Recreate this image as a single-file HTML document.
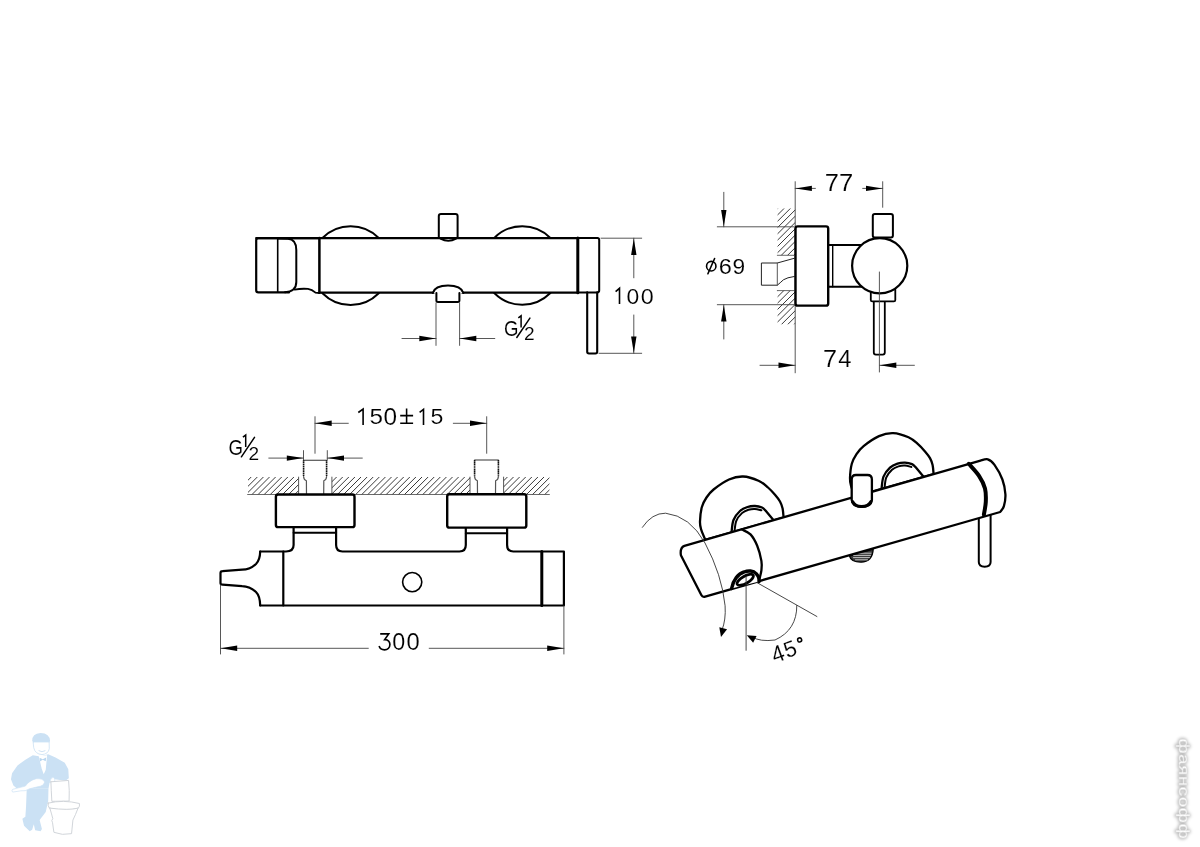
<!DOCTYPE html>
<html><head><meta charset="utf-8"><style>
html,body{margin:0;padding:0;background:#fff;}
svg{display:block;font-family:"Liberation Sans",sans-serif;will-change:transform;}
</style></head><body>
<svg width="1200" height="847" viewBox="0 0 1200 847" stroke-linecap="round" stroke-linejoin="round">
<rect width="1200" height="847" fill="#fff"/>
<circle cx="350.6" cy="265.6" r="39.4" stroke="#000" stroke-width="2" fill="#fff"/>
<circle cx="522.3" cy="265.5" r="39.3" stroke="#000" stroke-width="2" fill="#fff"/>
<path d="M438.8,238 L438.8,216 Q438.8,213.9 441,213.9 L455.5,213.9 Q457.6,213.9 457.6,216 L457.6,238" stroke="#000" stroke-width="2.0" fill="#fff" />
<rect x="256" y="238.1" width="343" height="54.5" fill="#fff" stroke="none"/>
<line x1="256.2" y1="238.1" x2="577.3" y2="238.1" stroke="#000" stroke-width="2.2"/>
<line x1="319.4" y1="292.7" x2="577.3" y2="292.7" stroke="#000" stroke-width="2.2"/>
<path d="M440.5,238.6 Q448.3,243.2 456.1,238.6" stroke="#000" stroke-width="1.8" fill="none" />
<path d="M319.4,238.1 L258.4,238.1 Q256.2,238.1 256.2,240.3 L256.2,290.2 Q256.2,292.4 258.4,292.4 L289,292.4" stroke="#000" stroke-width="2.2" fill="none" />
<line x1="319.4" y1="238.1" x2="319.4" y2="292.8" stroke="#000" stroke-width="2.5"/>
<line x1="277.7" y1="238.5" x2="277.7" y2="292.2" stroke="#000" stroke-width="1.6"/>
<path d="M277.7,238.6 L288,238.8 Q296.3,239.5 296.3,250 L296.3,282 Q296.3,291.5 285,292.2" stroke="#000" stroke-width="2.0" fill="none" />
<path d="M294.6,289.6 Q301,288.4 308,288.9 Q312,289.5 315.5,292.6 L319.4,293" stroke="#000" stroke-width="1.8" fill="none" />
<rect x="434.5" y="288" width="27" height="8" fill="#fff"/>
<path d="M432.8,293 Q435,285.6 448,285.6 Q461,285.6 463.4,293" stroke="#000" stroke-width="2.0" fill="#fff" />
<path d="M436.4,293 L436.4,300.5 Q436.4,302 438,302 L457.8,302 Q459.4,302 459.4,300.5 L459.4,293" stroke="#000" stroke-width="2.0" fill="none" />
<line x1="577.8" y1="238.1" x2="577.8" y2="292.7" stroke="#000" stroke-width="3.0"/>
<path d="M579.3,238.1 L597.4,238.1 Q599.2,238.1 599.2,240 L599.2,290.6 Q599.2,292.4 597.4,292.4 L579.3,292.4" stroke="#000" stroke-width="2.0" fill="none" />
<path d="M587.2,292.4 L587.2,351.8 Q587.2,353.5 589,353.5 L595.4,353.5 Q597.2,353.5 597.2,351.8 L597.2,292.4" stroke="#000" stroke-width="2.1" fill="none" />
<line x1="601" y1="238.2" x2="641.7" y2="238.2" stroke="#444" stroke-width="0.9"/>
<line x1="599" y1="353.3" x2="641.7" y2="353.3" stroke="#444" stroke-width="0.9"/>
<line x1="633.8" y1="238.2" x2="633.8" y2="277.8" stroke="#444" stroke-width="0.9"/>
<line x1="633.8" y1="315" x2="633.8" y2="353.3" stroke="#444" stroke-width="0.9"/>
<path d="M633.80,238.40 L636.50,254.90 L631.10,254.90 Z" fill="#000"/>
<path d="M633.80,353.10 L631.10,336.60 L636.50,336.60 Z" fill="#000"/>
<path d="M615.6,291.6 L619.5,288.3 L619.5,304" stroke="#000" stroke-width="1.6" fill="none" stroke-linecap="butt" stroke-linejoin="miter"/>
<text x="0" y="0" font-size="100" fill="#000" stroke="#fff" stroke-width="0.54" transform="matrix(0.22917,0,0,0.22394,626.583,303.776)" >0</text>
<text x="0" y="0" font-size="100" fill="#000" stroke="#fff" stroke-width="0.54" transform="matrix(0.23333,0,0,0.22394,640.767,303.776)" >0</text>
<line x1="436" y1="303" x2="436" y2="345.4" stroke="#444" stroke-width="0.9"/>
<line x1="459.6" y1="303" x2="459.6" y2="345.4" stroke="#444" stroke-width="0.9"/>
<line x1="402" y1="338.5" x2="436" y2="338.5" stroke="#444" stroke-width="0.9"/>
<line x1="459.6" y1="338.5" x2="494.8" y2="338.5" stroke="#444" stroke-width="0.9"/>
<path d="M435.80,338.50 L419.30,341.20 L419.30,335.80 Z" fill="#000"/>
<path d="M459.80,338.50 L476.30,335.80 L476.30,341.20 Z" fill="#000"/>
<line x1="795.2" y1="181.7" x2="795.2" y2="372.8" stroke="#444" stroke-width="0.9"/>
<clipPath id="h34"><rect x="777.6" y="208.6" width="17.600000000000023" height="46.70000000000002"/></clipPath>
<path d="M722.60,257.30 L773.30,206.60 M728.90,257.30 L779.60,206.60 M735.20,257.30 L785.90,206.60 M741.50,257.30 L792.20,206.60 M747.80,257.30 L798.50,206.60 M754.10,257.30 L804.80,206.60 M760.40,257.30 L811.10,206.60 M766.70,257.30 L817.40,206.60 M773.00,257.30 L823.70,206.60 M779.30,257.30 L830.00,206.60 M785.60,257.30 L836.30,206.60 M791.90,257.30 L842.60,206.60" stroke="#3a3a3a" stroke-width="1.0" clip-path="url(#h34)"/>
<clipPath id="h36"><rect x="777.6" y="290.6" width="17.600000000000023" height="33.69999999999999"/></clipPath>
<path d="M735.50,326.30 L773.20,288.60 M741.80,326.30 L779.50,288.60 M748.10,326.30 L785.80,288.60 M754.40,326.30 L792.10,288.60 M760.70,326.30 L798.40,288.60 M767.00,326.30 L804.70,288.60 M773.30,326.30 L811.00,288.60 M779.60,326.30 L817.30,288.60 M785.90,326.30 L823.60,288.60 M792.20,326.30 L829.90,288.60" stroke="#3a3a3a" stroke-width="1.0" clip-path="url(#h36)"/>
<line x1="777.3" y1="255.3" x2="794" y2="255.3" stroke="#444" stroke-width="0.8"/>
<line x1="777.3" y1="290.6" x2="794" y2="290.6" stroke="#444" stroke-width="0.8"/>
<path d="M794.2,258.3 L777.3,263 L761.4,263 L761.4,285.2 L777.3,285.2 Q780,283 783.4,279.8 Q787,277.5 794.2,276.5" stroke="#222" stroke-width="1.0" fill="none" />
<line x1="777.3" y1="263" x2="777.3" y2="285.2" stroke="#444" stroke-width="0.9"/>
<path d="M828.2,245 L866,245" stroke="#000" stroke-width="2.0" fill="none" />
<path d="M828.2,286.8 L866,286.8" stroke="#000" stroke-width="2.0" fill="none" />
<line x1="832.7" y1="244.8" x2="832.7" y2="286.8" stroke="#000" stroke-width="1.4"/>
<rect x="795.5" y="226.4" width="32.7" height="79.2" rx="2.2" stroke="#000" stroke-width="2.4" fill="#fff"/>
<rect x="872.8" y="213.9" width="20.1" height="23.5" rx="2" stroke="#000" stroke-width="2" fill="#fff"/>
<rect x="873.8" y="295" width="11" height="59.6" rx="2" stroke="#000" stroke-width="1.8" fill="#fff"/>
<rect x="870.8" y="288" width="24.5" height="13.4" rx="1.5" stroke="#000" stroke-width="1.8" fill="#fff"/>
<circle cx="879.7" cy="265.8" r="27.6" stroke="#000" stroke-width="2.2" fill="#fff"/>
<line x1="879.4" y1="272" x2="879.4" y2="372" stroke="#444" stroke-width="0.9"/>
<line x1="882.7" y1="181.7" x2="882.7" y2="207.3" stroke="#444" stroke-width="0.9"/>
<line x1="795.2" y1="188.4" x2="815.4" y2="188.4" stroke="#444" stroke-width="0.9"/>
<line x1="862.7" y1="188.4" x2="882.7" y2="188.4" stroke="#444" stroke-width="0.9"/>
<path d="M795.40,188.40 L811.90,185.70 L811.90,191.10 Z" fill="#000"/>
<path d="M882.50,188.40 L866.00,191.10 L866.00,185.70 Z" fill="#000"/>
<text x="0" y="0" font-size="100" fill="#000" stroke="#fff" stroke-width="0.49" transform="matrix(0.25435,0,0,0.24265,824.728,190.743)" >7</text>
<text x="0" y="0" font-size="100" fill="#000" stroke="#fff" stroke-width="0.49" transform="matrix(0.25652,0,0,0.24265,838.917,190.743)" >7</text>
<line x1="717.3" y1="226.8" x2="794" y2="226.8" stroke="#444" stroke-width="0.9"/>
<line x1="717.3" y1="304.7" x2="794" y2="304.7" stroke="#444" stroke-width="0.9"/>
<line x1="723.8" y1="192.3" x2="723.8" y2="226.8" stroke="#444" stroke-width="0.9"/>
<line x1="723.8" y1="304.7" x2="723.8" y2="339" stroke="#444" stroke-width="0.9"/>
<path d="M723.80,226.60 L721.10,210.10 L726.50,210.10 Z" fill="#000"/>
<path d="M723.80,304.90 L726.50,321.40 L721.10,321.40 Z" fill="#000"/>
<ellipse cx="711.25" cy="266.15" rx="4.7" ry="4.8" stroke="#000" stroke-width="1.6" fill="none"/>
<line x1="707.9" y1="273.75" x2="714.6" y2="258.5" stroke="#000" stroke-width="1.6"/>
<text x="0" y="0" font-size="100" fill="#000" stroke="#fff" stroke-width="0.53" transform="matrix(0.23478,0,0,0.22676,718.826,273.773)" >6</text>
<text x="0" y="0" font-size="100" fill="#000" stroke="#fff" stroke-width="0.53" transform="matrix(0.22717,0,0,0.22676,732.614,273.773)" >9</text>
<line x1="760" y1="365.3" x2="795.2" y2="365.3" stroke="#444" stroke-width="0.9"/>
<line x1="879.6" y1="365.3" x2="914.4" y2="365.3" stroke="#444" stroke-width="0.9"/>
<path d="M795.00,365.30 L778.50,368.00 L778.50,362.60 Z" fill="#000"/>
<path d="M879.80,365.30 L896.30,362.60 L896.30,368.00 Z" fill="#000"/>
<text x="0" y="0" font-size="100" fill="#000" stroke="#fff" stroke-width="0.50" transform="matrix(0.25217,0,0,0.24118,822.939,366.941)" >7</text>
<text x="0" y="0" font-size="100" fill="#000" stroke="#fff" stroke-width="0.50" transform="matrix(0.23725,0,0,0.24118,838.225,366.941)" >4</text>
<line x1="315" y1="416.7" x2="315" y2="453.3" stroke="#444" stroke-width="0.9"/>
<line x1="486.7" y1="416.7" x2="486.7" y2="453.3" stroke="#444" stroke-width="0.9"/>
<line x1="315" y1="423.3" x2="348.3" y2="423.3" stroke="#444" stroke-width="0.9"/>
<line x1="453.3" y1="423.3" x2="486.7" y2="423.3" stroke="#444" stroke-width="0.9"/>
<path d="M315.20,423.30 L331.70,420.60 L331.70,426.00 Z" fill="#000"/>
<path d="M486.50,423.30 L470.00,426.00 L470.00,420.60 Z" fill="#000"/>
<path d="M358.3,412.5 L363.1,409.1 L363.1,424.9" stroke="#000" stroke-width="1.6" fill="none" stroke-linecap="butt" stroke-linejoin="miter"/>
<text x="0" y="0" font-size="100" fill="#000" stroke="#fff" stroke-width="0.53" transform="matrix(0.24255,0,0,0.22786,369.430,424.472)" >5</text>
<text x="0" y="0" font-size="100" fill="#000" stroke="#fff" stroke-width="0.51" transform="matrix(0.24375,0,0,0.23521,383.425,424.865)" >0</text>
<path d="M406.6,408.6 L406.6,422.6 M400.2,415.6 L413.1,415.6 M400.2,423.2 L413.1,423.2" stroke="#000" stroke-width="1.55" fill="none" stroke-linecap="butt"/>
<path d="M419.6,412.4 L423.5,409.3 L423.5,425" stroke="#000" stroke-width="1.6" fill="none" stroke-linecap="butt" stroke-linejoin="miter"/>
<text x="0" y="0" font-size="100" fill="#000" stroke="#fff" stroke-width="0.54" transform="matrix(0.23085,0,0,0.22286,430.477,424.377)" >5</text>
<line x1="303.5" y1="450.6" x2="303.5" y2="460" stroke="#444" stroke-width="0.9"/>
<line x1="327.3" y1="450.6" x2="327.3" y2="460" stroke="#444" stroke-width="0.9"/>
<line x1="268.8" y1="458.1" x2="303.5" y2="458.1" stroke="#444" stroke-width="0.9"/>
<line x1="327.3" y1="458.1" x2="362.3" y2="458.1" stroke="#444" stroke-width="0.9"/>
<path d="M303.30,458.10 L286.80,460.80 L286.80,455.40 Z" fill="#000"/>
<path d="M327.50,458.10 L344.00,455.40 L344.00,460.80 Z" fill="#000"/>
<clipPath id="h92"><rect x="248" y="477.1" width="50.39999999999998" height="17.399999999999977"/></clipPath>
<path d="M225.60,496.50 L247.00,475.10 M231.70,496.50 L253.10,475.10 M237.80,496.50 L259.20,475.10 M243.90,496.50 L265.30,475.10 M250.00,496.50 L271.40,475.10 M256.10,496.50 L277.50,475.10 M262.20,496.50 L283.60,475.10 M268.30,496.50 L289.70,475.10 M274.40,496.50 L295.80,475.10 M280.50,496.50 L301.90,475.10 M286.60,496.50 L308.00,475.10 M292.70,496.50 L314.10,475.10" stroke="#3a3a3a" stroke-width="1.0" clip-path="url(#h92)"/>
<clipPath id="h94"><rect x="331.9" y="477.1" width="138.10000000000002" height="17.399999999999977"/></clipPath>
<path d="M304.90,496.50 L326.30,475.10 M311.00,496.50 L332.40,475.10 M317.10,496.50 L338.50,475.10 M323.20,496.50 L344.60,475.10 M329.30,496.50 L350.70,475.10 M335.40,496.50 L356.80,475.10 M341.50,496.50 L362.90,475.10 M347.60,496.50 L369.00,475.10 M353.70,496.50 L375.10,475.10 M359.80,496.50 L381.20,475.10 M365.90,496.50 L387.30,475.10 M372.00,496.50 L393.40,475.10 M378.10,496.50 L399.50,475.10 M384.20,496.50 L405.60,475.10 M390.30,496.50 L411.70,475.10 M396.40,496.50 L417.80,475.10 M402.50,496.50 L423.90,475.10 M408.60,496.50 L430.00,475.10 M414.70,496.50 L436.10,475.10 M420.80,496.50 L442.20,475.10 M426.90,496.50 L448.30,475.10 M433.00,496.50 L454.40,475.10 M439.10,496.50 L460.50,475.10 M445.20,496.50 L466.60,475.10 M451.30,496.50 L472.70,475.10 M457.40,496.50 L478.80,475.10 M463.50,496.50 L484.90,475.10 M469.60,496.50 L491.00,475.10" stroke="#3a3a3a" stroke-width="1.0" clip-path="url(#h94)"/>
<clipPath id="h96"><rect x="503.6" y="477.1" width="45.799999999999955" height="17.399999999999977"/></clipPath>
<path d="M481.80,496.50 L503.20,475.10 M487.90,496.50 L509.30,475.10 M494.00,496.50 L515.40,475.10 M500.10,496.50 L521.50,475.10 M506.20,496.50 L527.60,475.10 M512.30,496.50 L533.70,475.10 M518.40,496.50 L539.80,475.10 M524.50,496.50 L545.90,475.10 M530.60,496.50 L552.00,475.10 M536.70,496.50 L558.10,475.10 M542.80,496.50 L564.20,475.10 M548.90,496.50 L570.30,475.10" stroke="#3a3a3a" stroke-width="1.0" clip-path="url(#h96)"/>
<line x1="247.6" y1="494.5" x2="549.4" y2="494.5" stroke="#444" stroke-width="0.8"/>
<line x1="298.6" y1="477.1" x2="298.6" y2="494.5" stroke="#444" stroke-width="0.9"/>
<line x1="331.9" y1="477.1" x2="331.9" y2="494.5" stroke="#444" stroke-width="0.9"/>
<line x1="470" y1="477.1" x2="470" y2="494.5" stroke="#444" stroke-width="0.9"/>
<line x1="503.6" y1="477.1" x2="503.6" y2="494.5" stroke="#444" stroke-width="0.9"/>
<line x1="303.6" y1="460.3" x2="326.6" y2="460.3" stroke="#333" stroke-width="1.1"/>
<path d="M303.6,460.3 L303.6,476.5 M326.6,460.3 L326.6,476.5" stroke="#111" stroke-width="1.6" stroke-dasharray="1.4,0.4" stroke-linecap="butt"/>
<path d="M303.6,476.5 Q303.6,479.5 306.40000000000003,480.8 L306.5,494.5 M326.6,476.5 Q326.6,479.5 323.8,480.8 L323.70000000000005,494.5" stroke="#555" stroke-width="1.2" fill="none" />
<line x1="474.6" y1="460" x2="498.4" y2="460" stroke="#333" stroke-width="1.1"/>
<path d="M474.6,460 L474.6,476.5 M498.4,460 L498.4,476.5" stroke="#111" stroke-width="1.6" stroke-dasharray="1.4,0.4" stroke-linecap="butt"/>
<path d="M474.6,476.5 Q474.6,479.5 477.40000000000003,480.8 L477.5,494.5 M498.4,476.5 Q498.4,479.5 495.59999999999997,480.8 L495.5,494.5" stroke="#555" stroke-width="1.2" fill="none" />
<path d="M260.2,551.5 L286,551.5 Q293.6,551.5 293.6,545 L293.6,527 M336.1,527 L336.1,545 Q336.1,551.5 342.5,551.5 L459.5,551.5 Q465.8,551.5 465.8,545 L465.8,527 M507.1,527 L507.1,545 Q507.1,551.5 513.3,551.5 L563.9,551.5 L563.9,605.5 L260.2,605.5" stroke="#000" stroke-width="2.2" fill="none" />
<line x1="293.6" y1="532.8" x2="336.1" y2="532.8" stroke="#000" stroke-width="2.0"/>
<line x1="465.8" y1="533.3" x2="507.1" y2="533.3" stroke="#000" stroke-width="2.0"/>
<rect x="275.9" y="494.5" width="78.6" height="32.6" rx="2.2" stroke="#000" stroke-width="2.4" fill="#fff"/>
<rect x="447.2" y="494.3" width="79.1" height="33.3" rx="2.2" stroke="#000" stroke-width="2.4" fill="#fff"/>
<path d="M260.2,551.5 Q260,560 256,564 Q250,569.5 242.1,569.7 L222.5,571.2 Q220.5,571.3 220.5,573 L220.5,583 Q220.5,584.7 222.5,584.7 L242.1,586.2 Q250,586.6 256,592 Q260,596 260.2,605.5" stroke="#000" stroke-width="2.2" fill="none" />
<line x1="283.3" y1="551.5" x2="283.3" y2="605.5" stroke="#000" stroke-width="2.2"/>
<line x1="541.8" y1="551.5" x2="541.8" y2="605.5" stroke="#000" stroke-width="3.0"/>
<circle cx="412.2" cy="582.1" r="9.6" stroke="#000" stroke-width="1.6" fill="none"/>
<line x1="220.5" y1="585" x2="220.5" y2="654" stroke="#444" stroke-width="0.9"/>
<line x1="563.9" y1="606" x2="563.9" y2="654" stroke="#444" stroke-width="0.9"/>
<line x1="220.5" y1="648.3" x2="368.3" y2="648.3" stroke="#444" stroke-width="0.9"/>
<line x1="429.2" y1="648.3" x2="563.9" y2="648.3" stroke="#444" stroke-width="0.9"/>
<path d="M220.70,648.30 L237.20,645.60 L237.20,651.00 Z" fill="#000"/>
<path d="M563.70,648.30 L547.20,651.00 L547.20,645.60 Z" fill="#000"/>
<path d="M380.2,633.9 L388.7,633.9 L384.7,639.6 C388.6,639.5 389.9,642.4 389.9,644.5 C389.9,647.8 387.5,649.8 384.5,649.8 C381.8,649.8 379.8,648.3 379.1,646" stroke="#000" stroke-width="1.65" fill="none" stroke-linejoin="miter" stroke-linecap="butt"/>
<text x="0" y="0" font-size="100" fill="#000" stroke="#fff" stroke-width="0.51" transform="matrix(0.23333,0,0,0.23662,392.267,649.563)" >0</text>
<text x="0" y="0" font-size="100" fill="#000" stroke="#fff" stroke-width="0.51" transform="matrix(0.23750,0,0,0.23662,406.450,649.563)" >0</text>
<text x="0" y="0" font-size="100" fill="#000" stroke="#fff" stroke-width="0.54" transform="matrix(0.18615,0,0,0.22394,503.969,335.776)" >G</text>
<path d="M518.3,317.90000000000003 L521.1,315.8 L521.1,327.6" stroke="#000" stroke-width="1.5" fill="none" stroke-linecap="butt" stroke-linejoin="miter"/>
<text x="0" y="0" font-size="100" fill="#000" stroke="#fff" stroke-width="0.68" transform="matrix(0.19130,0,0,0.17571,523.943,340.200)" >2</text>
<line x1="516.8" y1="337.5" x2="529.9" y2="318.1" stroke="#000" stroke-width="1.5"/>
<text x="0" y="0" font-size="100" fill="#000" stroke="#fff" stroke-width="0.54" transform="matrix(0.18615,0,0,0.22394,228.569,455.076)" >G</text>
<path d="M242.9,437.2 L245.7,435.09999999999997 L245.7,446.9" stroke="#000" stroke-width="1.5" fill="none" stroke-linecap="butt" stroke-linejoin="miter"/>
<text x="0" y="0" font-size="100" fill="#000" stroke="#fff" stroke-width="0.68" transform="matrix(0.19130,0,0,0.17571,248.543,459.500)" >2</text>
<line x1="241.4" y1="456.79999999999995" x2="254.5" y2="437.4" stroke="#000" stroke-width="1.5"/>
<g transform="translate(0,0)">
<path d="M705.30,539.80 C704.58,538.00 701.88,532.07 701.00,529.00 C700.12,525.93 699.87,525.03 700.00,521.40 C700.13,517.77 700.72,511.18 701.80,507.20 C702.88,503.22 704.53,500.45 706.50,497.50 C708.47,494.55 709.85,492.50 713.60,489.50 C717.35,486.50 724.08,481.67 729.00,479.50 C733.92,477.33 738.18,476.30 743.10,476.50 C748.02,476.70 754.35,478.87 758.50,480.70 C762.65,482.53 765.25,485.15 768.00,487.50 C770.75,489.85 773.00,492.47 775.00,494.80 C777.00,497.13 778.73,499.22 780.00,501.50 C781.27,503.78 782.00,505.82 782.60,508.50 C783.20,511.18 783.43,516.08 783.60,517.60 Z" stroke="#000" stroke-width="2.3" fill="#fff" />
<path d="M731.50,532.60 C731.83,530.50 732.08,523.60 733.50,520.00 C734.92,516.40 737.67,513.17 740.00,511.00 C742.33,508.83 745.00,507.83 747.50,507.00 C750.00,506.17 752.58,505.92 755.00,506.00 C757.42,506.08 760.25,506.75 762.00,507.50 C763.75,508.25 764.92,510.00 765.50,510.50 L773.6,520.2" stroke="#000" stroke-width="2.3" fill="none" />
<path d="M734.36,533.05 C734.67,531.06 734.93,524.38 736.20,521.06 C737.47,517.74 739.94,515.01 741.97,513.13 C744.01,511.24 746.26,510.46 748.42,509.75 C750.57,509.05 752.74,508.80 754.90,508.90 C757.06,509.00 760.31,510.10 761.39,510.34" stroke="#000" stroke-width="2.0" fill="none" />
</g>
<g transform="translate(150,-43.4)">
<path d="M705.30,539.80 C704.58,538.00 701.88,532.07 701.00,529.00 C700.12,525.93 699.87,525.03 700.00,521.40 C700.13,517.77 700.72,511.18 701.80,507.20 C702.88,503.22 704.53,500.45 706.50,497.50 C708.47,494.55 709.85,492.50 713.60,489.50 C717.35,486.50 724.08,481.67 729.00,479.50 C733.92,477.33 738.18,476.30 743.10,476.50 C748.02,476.70 754.35,478.87 758.50,480.70 C762.65,482.53 765.25,485.15 768.00,487.50 C770.75,489.85 773.00,492.47 775.00,494.80 C777.00,497.13 778.73,499.22 780.00,501.50 C781.27,503.78 782.00,505.82 782.60,508.50 C783.20,511.18 783.43,516.08 783.60,517.60 Z" stroke="#000" stroke-width="2.3" fill="#fff" />
<path d="M731.50,532.60 C731.83,530.50 732.08,523.60 733.50,520.00 C734.92,516.40 737.67,513.17 740.00,511.00 C742.33,508.83 745.00,507.83 747.50,507.00 C750.00,506.17 752.58,505.92 755.00,506.00 C757.42,506.08 760.25,506.75 762.00,507.50 C763.75,508.25 764.92,510.00 765.50,510.50 L773.6,520.2" stroke="#000" stroke-width="2.3" fill="none" />
<path d="M734.36,533.05 C734.67,531.06 734.93,524.38 736.20,521.06 C737.47,517.74 739.94,515.01 741.97,513.13 C744.01,511.24 746.26,510.46 748.42,509.75 C750.57,509.05 752.74,508.80 754.90,508.90 C757.06,509.00 760.31,510.10 761.39,510.34" stroke="#000" stroke-width="2.0" fill="none" />
</g>
<path d="M978.8,505 L978.8,562 Q978.8,566.7 984.7,566.7 Q990.6,566.7 990.6,562 L990.6,505" stroke="#000" stroke-width="2.0" fill="#fff" />
<path d="M849.5,556.2 Q851,562.2 861,562.2 Q872.5,561.7 873.2,549.2 Z" fill="#3a3a3a" stroke="#000" stroke-width="1.3"/>
<line x1="855.5" y1="553.2" x2="871" y2="553.2" stroke="#d0d0d0" stroke-width="0.9"/>
<line x1="853.5" y1="555.4" x2="870.5" y2="555.4" stroke="#d0d0d0" stroke-width="0.9"/>
<line x1="853.5" y1="557.6" x2="869.5" y2="557.6" stroke="#d0d0d0" stroke-width="0.9"/>
<line x1="855.5" y1="559.8" x2="867.5" y2="559.8" stroke="#d0d0d0" stroke-width="0.9"/>
<path d="M684.4,545.8 L980.5,460.6 C981.72,460.38 985.47,458.60 987.80,459.30 C990.13,460.00 992.07,461.43 994.50,464.80 C996.93,468.17 1000.58,474.58 1002.40,479.50 C1004.22,484.42 1005.15,489.87 1005.40,494.30 C1005.65,498.73 1004.77,503.15 1003.90,506.10 C1003.03,509.05 1000.82,511.02 1000.20,512.00 L704.3,596.8 Q702.3,597 701.3,595 L680.9,555.2 Q679.8,547.5 684.4,545.8 Z" stroke="#000" stroke-width="2.3" fill="#fff" />
<path d="M742.00,529.60 C743.42,530.40 747.97,531.70 750.50,534.40 C753.03,537.10 755.38,541.38 757.20,545.80 C759.02,550.22 760.70,556.82 761.40,560.90 C762.10,564.98 761.72,567.32 761.40,570.30 C761.08,573.28 759.82,577.38 759.50,578.80" stroke="#000" stroke-width="2.3" fill="none" />
<path d="M968.80,463.80 C970.50,465.80 976.30,471.70 979.00,475.80 C981.70,479.90 983.87,484.07 985.00,488.40 C986.13,492.73 985.98,497.43 985.80,501.80 C985.62,506.17 984.22,512.47 983.90,514.60" stroke="#000" stroke-width="4.0" fill="none" />
<path d="M851.7,500 L851.7,479.5 Q851.7,475 856,475 L867.5,475 Q871.9,475 871.9,479.5 L871.9,500 Q871,506.8 861.5,506.8 Q852.3,506.8 851.7,500 Z" stroke="#000" stroke-width="2.3" fill="#fff" />
<path d="M852.5,501.5 Q855,506.5 861.5,506.5 Q868.5,506.5 871,501.5" stroke="#000" stroke-width="3" fill="none" />
<path d="M731.6,588.6 C733,580 738.5,573.5 744,572 C748,570.5 753.5,570.5 756,573.5 C758.7,576 759.3,579 759,581.5" stroke="#000" stroke-width="3.4" fill="#fff" />
<ellipse cx="745.2" cy="579.8" rx="9.2" ry="3.6" transform="rotate(-30 745.2 579.8)" stroke="#000" stroke-width="2.8" fill="#fff"/>
<path d="M642.4,527.3 Q652,513 665.6,513.2 Q690,516 705,543 Q722,575 725.1,605.8 Q726,620 722,630" stroke="#333" stroke-width="0.9" fill="none" />
<path d="M721.00,637.00 L719.30,627.30 L727.06,629.24 Z" fill="#000"/>
<line x1="746.1" y1="577" x2="746.1" y2="650.3" stroke="#333" stroke-width="0.9"/>
<line x1="757.1" y1="582.7" x2="816.9" y2="616.5" stroke="#333" stroke-width="0.9"/>
<path d="M796.8,605.5 Q797,630 775,640 Q760,642 752,637" stroke="#333" stroke-width="0.9" fill="none" />
<path d="M746.80,635.30 L756.55,635.93 L753.15,642.72 Z" fill="#000"/>
<g transform="rotate(-20 780 652)">
<text x="0" y="0" font-size="100" fill="#000" stroke="#fff" stroke-width="0.51" transform="matrix(0.22157,0,0,0.23529,771.157,660.935)" >4</text>
<text x="0" y="0" font-size="100" fill="#000" stroke="#fff" stroke-width="0.54" transform="matrix(0.21915,0,0,0.22429,784.423,660.276)" >5</text>
<circle cx="802.6" cy="647.4" r="2" stroke="#000" stroke-width="1.5" fill="none"/>
</g>
<g transform="translate(5,725) scale(0.13582)">
<path d="M160,470 L320,470 L318,560 L300,640 L255,700 L272,765 L262,782 L222,775 L212,730 L200,772 L182,782 L140,742 L128,690 L150,675 L155,600 Z" fill="#cbe1f4"/>
<path d="M205,222 L150,255 L92,298 L52,355 L44,400 L62,445 L100,478 L160,480 L200,470 L320,470 L328,425 L352,398 L445,410 L470,392 L466,325 L440,278 L372,240 L318,215 L260,232 Z" fill="#cbe1f4"/>
<path d="M248,228 L310,222 L300,330 L285,362 L270,320 Z" fill="#fff"/>
<path d="M255,242 L278,252 L303,240 L300,266 L278,256 L257,268 Z" fill="#b9d6ef"/>
<path d="M200,118 Q198,62 262,58 Q330,60 332,118 L325,130 L210,130 Z" fill="#cbe1f4"/>
<path d="M210,125 L325,125 L326,175 Q318,215 272,218 Q222,214 212,170 Z" fill="#fff" stroke="#cbe1f4" stroke-width="6"/>
<path d="M250,190 Q272,205 295,190" stroke="#b9d6ef" stroke-width="5" fill="none"/>
<path d="M55,492 Q40,475 70,470 L150,450 Q175,410 230,395 Q280,392 292,420 Q285,450 240,455 L180,470 Q150,490 120,485 Z" fill="#fff" stroke="#cbe1f4" stroke-width="5"/>
<path d="M330,420 Q335,385 355,385 Q372,392 365,430 Z" fill="#fff" stroke="#cbe1f4" stroke-width="5"/>
</g>
<g transform="translate(5,725) scale(0.13582)" fill="#fff" stroke="#cfd3d8" stroke-width="7">
<path d="M338,418 L468,408 Q476,480 472,560 L345,562 Q340,480 338,418 Z"/>
<path d="M318,575 Q430,548 548,578 Q552,600 540,612 Q500,625 430,625 Q360,625 325,610 Q315,595 318,575 Z"/>
<path d="M330,612 Q345,660 352,690 Q338,700 350,720 L360,790 Q420,815 490,800 L500,700 Q520,660 538,612 Q470,630 330,612 Z"/>
</g>
<filter id="wmb" x="-50%" y="-20%" width="200%" height="140%"><feGaussianBlur stdDeviation="1.6"/></filter>
<g transform="translate(1178.5,738.5) rotate(90)" font-size="14.5" letter-spacing="0.6"><text x="0" y="0" fill="#bbb" stroke="#bbb" stroke-width="2.2" filter="url(#wmb)" textLength="101" lengthAdjust="spacingAndGlyphs">фаянсофф</text><text x="0" y="0" fill="#fff" stroke="#e2e2e2" stroke-width="0.5" textLength="101" lengthAdjust="spacingAndGlyphs">фаянсофф</text></g>
</svg></body></html>
